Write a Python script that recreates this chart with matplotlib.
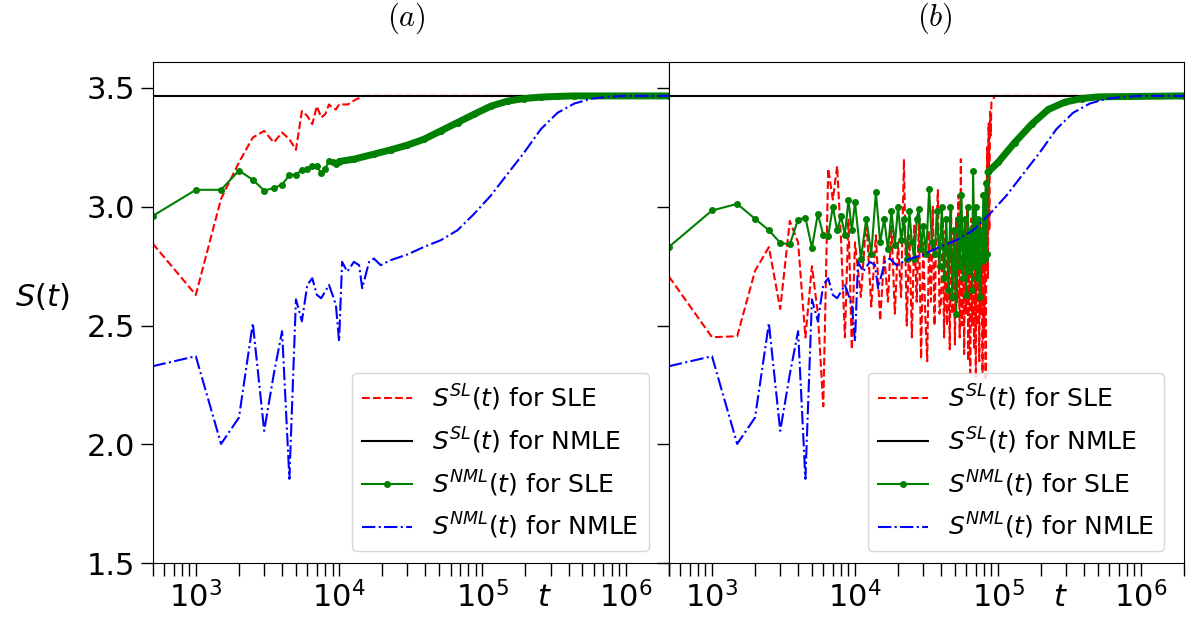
import numpy as np
import matplotlib.pyplot as plt

# ---- data ----
# black: S^SL for NMLE, flat at ln(32)
t_black = [500, 2000000]
s_black = [3.466, 3.466]

# blue: S^NML for NMLE (same in both panels)
t_blue = [500, 1000, 1500, 2000, 2500, 3000, 3500, 4000, 4500, 5000,
          5500, 6000, 6500, 7000, 7500, 8000, 8500, 9000, 9500, 10000,
          10500, 11400, 12700, 13800, 14500, 16200, 17500, 19500, 22900, 30000,
          39200, 51300, 67100, 87700, 114700, 150000, 196000, 256000, 335000, 439000,
          574000, 751000, 982000, 2000000]
s_blue = [2.329, 2.371, 2.002, 2.113, 2.510, 2.057, 2.295, 2.476, 1.855, 2.610,
          2.518, 2.671, 2.699, 2.629, 2.615, 2.643, 2.671, 2.629, 2.587, 2.434,
          2.768, 2.727, 2.768, 2.754, 2.657, 2.768, 2.782, 2.754, 2.775, 2.799,
          2.831, 2.859, 2.901, 2.970, 3.047, 3.138, 3.228, 3.326, 3.395, 3.434,
          3.454, 3.462, 3.466, 3.466]

# panel (a): red, S^SL for SLE
t_red_a = [500, 1000, 1500, 2000, 2500, 3000, 3500, 4000, 4500, 5000,
           5500, 6000, 6500, 7000, 7500, 8000, 8500, 9000, 9500, 10000,
           11500, 13000, 15000, 2000000]
s_red_a = [2.845, 2.629, 3.033, 3.186, 3.291, 3.319, 3.270, 3.312, 3.284, 3.239,
           3.402, 3.382, 3.347, 3.423, 3.375, 3.389, 3.430, 3.416, 3.409, 3.430,
           3.430, 3.450, 3.466, 3.466]

# panel (a): green, S^NML for SLE
t_green_a = [500, 1000, 1500, 2000, 2500, 3000, 3500, 4000, 4500, 5000,
             5500, 6000, 6500, 7000, 7500, 8000, 8500, 9000, 9500, 10000,
             12700, 17500, 22900, 30000, 39200, 51300, 67100, 87700, 114700, 150000,
             196000, 256000, 335000, 439000, 2000000]
s_green_a = [2.961, 3.071, 3.071, 3.152, 3.113, 3.068, 3.078, 3.093, 3.133, 3.135,
             3.156, 3.159, 3.170, 3.172, 3.140, 3.159, 3.193, 3.186, 3.179, 3.190,
             3.200, 3.221, 3.239, 3.259, 3.284, 3.319, 3.354, 3.389, 3.423, 3.444,
             3.455, 3.461, 3.464, 3.466, 3.466]

# panel (b): red, S^SL for SLE
t_red_b = [500, 1000, 1500, 2000, 2500, 3000, 3500, 4000, 4500, 5000,
           5500, 6000, 6500, 7000, 7500, 8000, 8500, 9000, 9500, 10000,
           11000, 12000, 13000, 14000, 15000, 16000, 17000, 18000, 19000, 20000,
           21000, 22000, 23000, 24000, 25000, 26000, 27000, 28000, 29000, 30000,
           31000, 32000, 33000, 34000, 35000, 36000, 37000, 38000, 39000,
           40000, 41000, 42000, 43000, 44000, 45000, 46000, 47000, 48000,
           49000, 50000, 51000, 52000, 53000, 54000, 55000, 56000, 57000, 58000,
           59000, 60000, 61000, 62000, 63000, 64000, 65000, 66000, 67000, 68000,
           69000, 70000, 71000, 72000, 73000, 74000, 75000, 76000, 77000, 78000,
           79000, 80000, 81000, 82000, 83000, 84000, 85000, 86000, 87000, 88000,
           89000, 90000, 92000, 95000, 2000000]
s_red_b = [2.706, 2.451, 2.455, 2.73, 2.83, 2.57, 2.94, 2.85, 2.45, 2.75,
           2.55, 2.16, 3.16, 3.03, 3.17, 2.85, 2.45, 2.95, 2.40, 2.85,
           2.62, 2.95, 2.58, 2.88, 2.52, 2.80, 2.60, 2.92, 2.55, 2.85,
           2.62, 3.20, 2.50, 2.88, 2.45, 2.92, 2.60, 2.95, 2.36, 2.85,
           2.55, 2.35, 2.90, 2.60, 3.00, 2.50, 2.90, 3.07, 2.55,
           2.60, 2.95, 2.45, 2.90, 2.50, 2.85, 2.40, 3.00, 2.55,
           2.90, 2.42, 2.95, 2.60, 3.05, 2.45, 3.20, 2.50, 2.90, 2.38,
           2.95, 2.55, 3.00, 2.35, 2.85, 2.30, 2.95, 2.50, 3.05, 2.40,
           2.80, 2.28, 2.95, 2.50, 2.85, 2.35, 2.95, 2.55, 2.85, 2.30,
           2.90, 2.45, 2.80, 2.28, 2.90, 3.25, 2.70, 3.35, 2.90, 3.40,
           3.30, 3.44, 3.45, 3.466, 3.466]

# panel (b): green, S^NML for SLE
t_green_b = [500, 1000, 1500, 2000, 2500, 3000, 3500, 4000, 4500, 5000,
             5500, 6000, 6500, 7000, 7500, 8000, 8500, 9000, 9500, 10000,
             11000, 12000, 13000, 14000, 15000, 16000, 17000, 18000, 19000, 20000,
             21000, 22000, 23000, 24000, 25000, 26000, 27000, 28000, 29000, 30000,
             31500, 33000, 34500, 36000, 37500, 39000, 40500, 42000, 43500, 45000,
             46500, 48000, 49500, 51000, 52500, 54000, 55500, 57000, 58500, 60000,
             61500, 63000, 64500, 66000, 67000, 68500, 70000, 71500, 73000, 74500,
             76000, 77500, 79000, 80500, 82000, 83500, 85000,
             100000, 131000, 172000, 225000, 294000, 385000, 503000, 2000000]
s_green_b = [2.831, 2.984, 3.012, 2.949, 2.901, 2.848, 2.841, 2.946, 2.954, 2.827,
             2.970, 2.880, 2.878, 3.000, 2.900, 2.960, 2.880, 3.030, 2.900, 3.020,
             2.780, 2.950, 2.800, 3.060, 2.850, 2.950, 2.820, 2.980, 2.840, 3.000,
             2.860, 2.950, 2.780, 2.980, 2.850, 2.780, 2.950, 2.990, 2.820, 2.920,
             2.800, 3.075, 2.850, 2.800, 2.980, 2.750, 3.000, 2.700, 2.950, 2.650,
             3.000, 2.620, 2.900, 2.550, 2.950, 2.750, 3.050, 2.700, 2.950, 2.630,
             3.000, 2.730, 2.900, 2.650, 3.152, 2.750, 3.000, 2.700, 2.950, 2.620,
             2.900, 2.770, 3.050, 2.780, 3.100, 2.800, 3.145,
             3.186, 3.270, 3.347, 3.409, 3.440, 3.455, 3.462, 3.466]

# (label, red t, red s, green t, green s, t where green markers merge into a band)
panels = [('(a)', t_red_a, s_red_a, t_green_a, s_green_a, 10000),
          ('(b)', t_red_b, s_red_b, t_green_b, s_green_b, 85000)]

fig = plt.figure(figsize=(11.92, 6.3), dpi=100)
ax_a = fig.add_axes([0.1281, 0.1059, 0.4329, 0.7962])
ax_b = fig.add_axes([0.5612, 0.1059, 0.4321, 0.7962], sharey=ax_a)

for ax, (name, tr, sr, tg, sg, t_band) in zip([ax_a, ax_b], panels):
    ax.plot(tr, sr, 'r--', lw=1.5, label=r'$S^{SL}(t)$ for SLE')
    ax.plot(t_black, s_black, 'k-', lw=1.5, label=r'$S^{SL}(t)$ for NMLE')
    ax.plot(tg, sg, 'g.-', lw=1.5, ms=8, label=r'$S^{NML}(t)$ for SLE')
    # dense markers in the original merge into a thick band
    tg_arr = np.array(tg)
    dense = tg_arr >= t_band
    ax.plot(tg_arr[dense], np.array(sg)[dense], 'g-', lw=5, solid_capstyle='round')
    ax.plot(t_blue, s_blue, 'b-.', lw=1.5, label=r'$S^{NML}(t)$ for NMLE')
    ax.set_xscale('log')
    ax.set_xlim(500, 2e6)
    ax.set_ylim(1.5, 3.61)
    ax.set_yticks([1.5, 2.0, 2.5, 3.0, 3.5])
    ax.tick_params(which='both', direction='out', length=9, width=1, labelsize=22)
    ax.set_xlabel(r'$t$', fontsize=22)
    ax.xaxis.set_label_coords(0.76, -0.04)
    ax.legend(loc='lower right', bbox_to_anchor=(0.961, 0.024), borderaxespad=0,
              fontsize=18)

ax_a.set_ylabel(r'$S(t)$', fontsize=22, rotation=0)
ax_a.yaxis.set_label_coords(-0.215, 0.5)
ax_b.tick_params(axis='y', labelleft=False)

fig.text(406 / 1192, 1 - 18 / 630, r'$(a)$', fontsize=22, math_fontfamily='cm',
         ha='center', va='center')
fig.text(935 / 1192, 1 - 18 / 630, r'$(b)$', fontsize=22, math_fontfamily='cm',
         ha='center', va='center')

fig.savefig('out.png', dpi=100)
